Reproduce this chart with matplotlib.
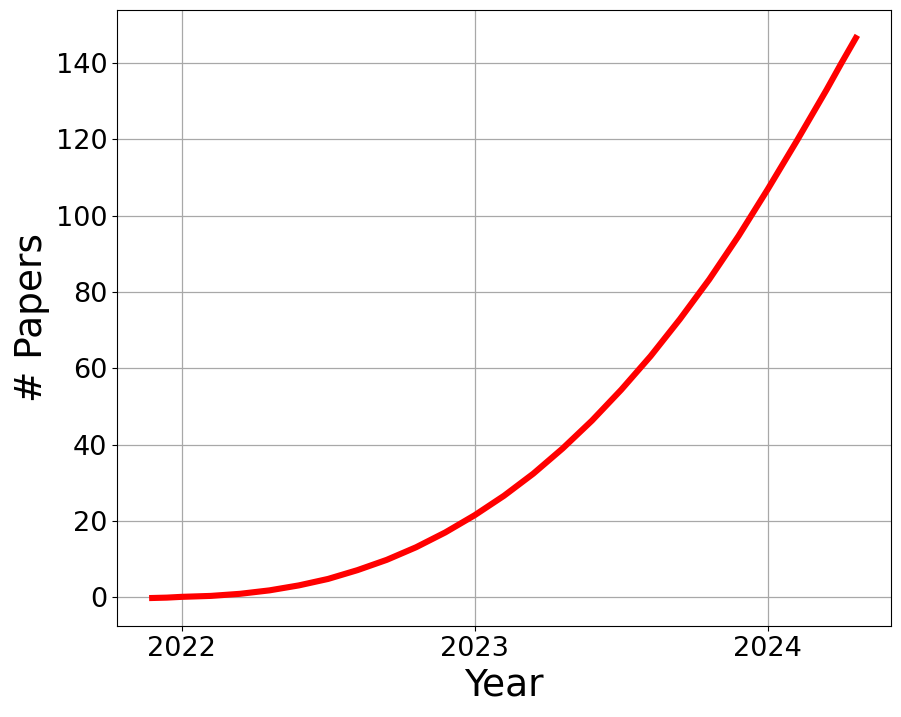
import matplotlib
matplotlib.use("Agg")
import matplotlib.pyplot as plt

# Values
years = [2021.90, 2021.95, 2022.00, 2022.10, 2022.20, 2022.30, 2022.40, 2022.50,
         2022.60, 2022.70, 2022.80, 2022.90, 2023.00, 2023.10, 2023.20, 2023.30,
         2023.40, 2023.50, 2023.60, 2023.70, 2023.80, 2023.90, 2024.00, 2024.10,
         2024.20, 2024.25, 2024.30]
papers = [-0.2, -0.1, 0.1, 0.35, 0.9, 1.8, 3.1, 4.8,
          7.1, 9.8, 13.1, 17.0, 21.5, 26.6, 32.4, 39.0,
          46.3, 54.4, 63.2, 72.9, 83.3, 94.7, 107.0, 119.8,
          133.0, 139.9, 146.6]
xticks = [2022, 2023, 2024]
yticks = [0, 20, 40, 60, 80, 100, 120, 140]

fig = plt.figure(figsize=(9.01, 7.17), dpi=100)
ax = fig.add_axes([117/901, (717-626)/717, (891-117)/901, (626-10)/717])

ax.plot(years, papers, color="red", linewidth=4.4, solid_capstyle="projecting",
        solid_joinstyle="round")
ax.set_xticks(xticks)
ax.set_xticklabels([str(y) for y in xticks])
ax.set_yticks(yticks)
ax.tick_params(axis="both", labelsize=19.5)
ax.grid(True, color="#a8a8a8", linewidth=0.9)
ax.set_axisbelow(True)
ax.set_xlabel("Year", fontsize=27)
ax.set_ylabel("# Papers", fontsize=27)

fig.savefig("out.png", dpi=100)
